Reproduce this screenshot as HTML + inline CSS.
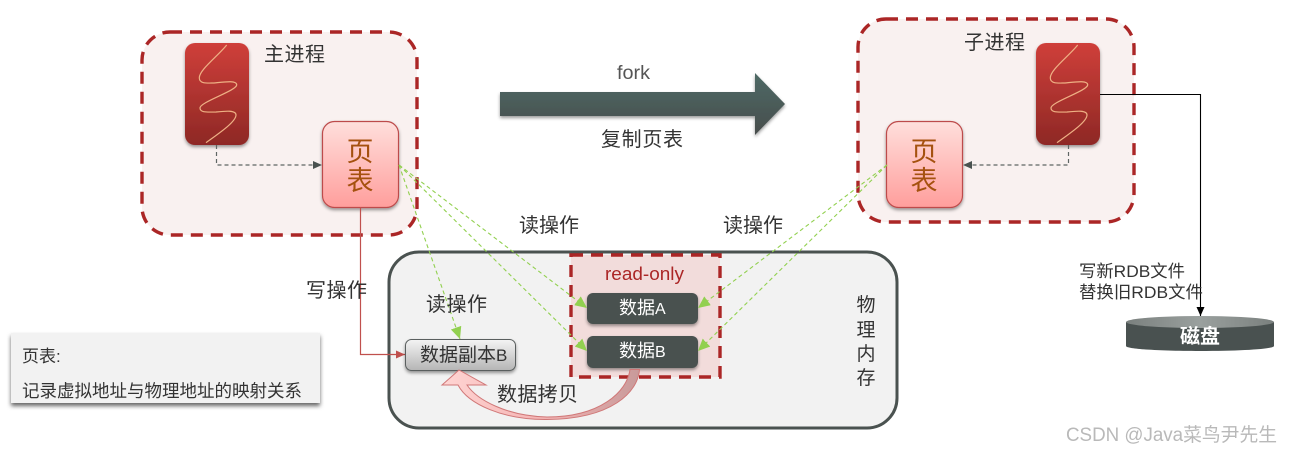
<!DOCTYPE html>
<html><head><meta charset="utf-8"><style>
html,body{margin:0;padding:0;background:#fff;width:1292px;height:453px;overflow:hidden}
svg{display:block}
text{font-family:"Liberation Sans","Noto Sans CJK SC",sans-serif;fill:#333}
</style></head><body>
<svg width="1292" height="453" viewBox="0 0 1292 453" xmlns="http://www.w3.org/2000/svg">
<defs>
<linearGradient id="red" x1="0" y1="0" x2="0" y2="1"><stop offset="0" stop-color="#cf3f3a"/><stop offset="1" stop-color="#8e2825"/></linearGradient>
<linearGradient id="pink" x1="0" y1="0" x2="0" y2="1"><stop offset="0" stop-color="#ffdfdc"/><stop offset="1" stop-color="#ff9e9c"/></linearGradient>
<linearGradient id="gray" x1="0" y1="0" x2="0" y2="1"><stop offset="0" stop-color="#f4f4f4"/><stop offset="1" stop-color="#b5b5b5"/></linearGradient>
<linearGradient id="arr" x1="0" y1="0" x2="0" y2="1"><stop offset="0" stop-color="#4f6a66"/><stop offset="1" stop-color="#474d4c"/></linearGradient>
<linearGradient id="cur" x1="1" y1="0" x2="0" y2="0"><stop offset="0" stop-color="#c89a9a"/><stop offset="0.5" stop-color="#f4b4b4"/><stop offset="1" stop-color="#ffd5d3"/></linearGradient>
<linearGradient id="disk" x1="0" y1="0" x2="1" y2="0"><stop offset="0" stop-color="#7a807e"/><stop offset="0.5" stop-color="#9aa09e"/><stop offset="1" stop-color="#7a807e"/></linearGradient>
<filter id="sh" x="-20%" y="-20%" width="140%" height="140%"><feDropShadow dx="0" dy="2" stdDeviation="1.6" flood-color="#000" flood-opacity=".4"/></filter>
<filter id="sh2" x="-5%" y="-10%" width="110%" height="125%"><feDropShadow dx="0" dy="3" stdDeviation="2" flood-color="#000" flood-opacity=".6"/></filter>
<marker id="gh" markerUnits="userSpaceOnUse" markerWidth="13" markerHeight="11" refX="12" refY="5.5" orient="auto"><path d="M0 0L12 5.500L0 11Z" fill="#92d050"/></marker>
<marker id="dh" markerUnits="userSpaceOnUse" markerWidth="10" markerHeight="10" refX="9" refY="4" orient="auto"><path d="M0 0L9 4L0 8Z" fill="#4a5250"/></marker>
<marker id="rh" markerUnits="userSpaceOnUse" markerWidth="10" markerHeight="10" refX="9" refY="4" orient="auto"><path d="M0 0L9 4L0 8Z" fill="#c0504d"/></marker>
<marker id="kh" markerUnits="userSpaceOnUse" markerWidth="10" markerHeight="10" refX="9" refY="4" orient="auto"><path d="M0 0L9 4L0 8Z" fill="#000"/></marker>
</defs>

<!-- process containers -->
<rect x="142" y="32" width="275" height="203" rx="28" fill="#f9f1f0" stroke="#ab2626" stroke-width="3.400" stroke-dasharray="12 8"/>
<rect x="858" y="19" width="276" height="203" rx="28" fill="#f9f1f0" stroke="#ab2626" stroke-width="3.400" stroke-dasharray="12 8"/>

<!-- physical memory -->
<rect x="389" y="252" width="508" height="176" rx="30" fill="#f2f2f2" stroke="#4a5250" stroke-width="3"/>
<rect x="571" y="255" width="149" height="122" fill="#f2dcdb" stroke="#ab2626" stroke-width="3.400" stroke-dasharray="12 8"/>

<!-- red blocks -->
<g filter="url(#sh)"><rect x="185" y="43" width="64" height="102" rx="10" fill="url(#red)"/></g>
<path d="M226.700 45C218 56 199 70 199.300 78C199.500 84 207 83 214 83C224 82 237 80 236.700 85C236 91 200 102 200 108C200 113 208 112 216 112C226 111 236 110 236 115C236 122 218 134 206 142.700" fill="none" stroke="#eeb084" stroke-width="1.200"/>
<g filter="url(#sh)"><rect x="1036" y="43" width="64" height="102" rx="10" fill="url(#red)"/></g>
<path transform="translate(851 0)" d="M226.700 45C218 56 199 70 199.300 78C199.500 84 207 83 214 83C224 82 237 80 236.700 85C236 91 200 102 200 108C200 113 208 112 216 112C226 111 236 110 236 115C236 122 218 134 206 142.700" fill="none" stroke="#eeb084" stroke-width="1.200"/>

<!-- page tables -->
<g filter="url(#sh)"><rect x="322.500" y="121.500" width="76" height="86" rx="12" fill="url(#pink)" stroke="#bd4b4b" stroke-width="1.200"/></g>
<text x="360" y="161" font-size="27" text-anchor="middle" style="fill:#a5510f">页</text>
<text x="360" y="190" font-size="27" text-anchor="middle" style="fill:#a5510f">表</text>
<g filter="url(#sh)"><rect x="886.500" y="121.500" width="76" height="86" rx="12" fill="url(#pink)" stroke="#bd4b4b" stroke-width="1.200"/></g>
<text x="924" y="161" font-size="27" text-anchor="middle" style="fill:#a5510f">页</text>
<text x="924" y="190" font-size="27" text-anchor="middle" style="fill:#a5510f">表</text>

<!-- grey dashed connectors -->
<path d="M216.500 145V165H322" fill="none" stroke="#5f6664" stroke-width="1.200" stroke-dasharray="4 3" marker-end="url(#dh)"/>
<path d="M1068.500 145V165H963" fill="none" stroke="#5f6664" stroke-width="1.200" stroke-dasharray="4 3" marker-end="url(#dh)"/>

<!-- red write connector -->
<path d="M360.500 207V354.500H405" fill="none" stroke="#c0504d" stroke-width="1.200" marker-end="url(#rh)"/>

<!-- data blocks -->
<g filter="url(#sh)"><rect x="587" y="293" width="111" height="31" rx="6" fill="#495150"/></g>
<g filter="url(#sh)"><rect x="587" y="336" width="111" height="32" rx="6" fill="#495150"/></g>
<g filter="url(#sh)"><rect x="405.500" y="339.500" width="110" height="31" rx="6" fill="url(#gray)" stroke="#5a5f5e" stroke-width="1"/></g>

<!-- curved arrow -->
<path d="M630 369.500H639.500C638 392 612 419 547 419.500C503 420 468 404 458 385H442L459 370L486 385H467C477 400 507 416 547 417C600 417 627 392 630 369.500Z" fill="url(#cur)" stroke="#d07878" stroke-width="1"/>

<!-- green read connectors -->
<g fill="none" stroke="#92d050" stroke-width="1.100" stroke-dasharray="4 3">
<path d="M399 165L587 308" marker-end="url(#gh)"/>
<path d="M399 165L587 351" marker-end="url(#gh)"/>
<path d="M399 165L460 339" marker-end="url(#gh)"/>
<path d="M887 165L698 308" marker-end="url(#gh)"/>
<path d="M887 165L698 351" marker-end="url(#gh)"/>
</g>

<!-- big arrow -->
<path d="M500 92H755V73L785 104L755 135V116H500Z" fill="url(#arr)" filter="url(#sh)"/>

<!-- disk -->
<path d="M1126 322V346C1126 349 1159 351 1200 351C1241 351 1274 349 1274 346V322Z" fill="#495150"/>
<ellipse cx="1200" cy="322" rx="74" ry="6" fill="url(#disk)"/>

<!-- black connector -->
<path d="M1100 94.500H1200.500V316" fill="none" stroke="#000" stroke-width="1.100" marker-end="url(#kh)"/>

<!-- legend -->
<rect x="11" y="333" width="309" height="70" fill="#f2f2f2" filter="url(#sh2)"/>
<text x="22" y="362" font-size="17">页表:</text>
<text x="22" y="397" font-size="17.500" textLength="280">记录虚拟地址与物理地址的映射关系</text>

<!-- labels -->
<text x="264" y="61" font-size="20" textLength="61">主进程</text>
<text x="964" y="49" font-size="20" textLength="61">子进程</text>
<text x="617" y="79" font-size="19" style="fill:#555" textLength="33" lengthAdjust="spacingAndGlyphs">fork</text>
<text x="601" y="146" font-size="20" textLength="82">复制页表</text>
<text x="519" y="232" font-size="20" textLength="60">读操作</text>
<text x="723" y="232" font-size="20" textLength="60">读操作</text>
<text x="306" y="297" font-size="20" textLength="61">写操作</text>
<text x="426" y="311" font-size="20" textLength="61">读操作</text>
<text x="605" y="280" font-size="18" style="fill:#ab2626" textLength="79" lengthAdjust="spacingAndGlyphs">read-only</text>
<text x="619" y="314" font-size="18" style="fill:#fff">数据<tspan font-size="16">A</tspan></text>
<text x="619" y="357" font-size="18" style="fill:#fff">数据<tspan font-size="16">B</tspan></text>
<text x="420" y="361" font-size="19">数据副本<tspan font-size="17">B</tspan></text>
<text x="497" y="401" font-size="20" textLength="81">数据拷贝</text>
<text x="866" y="311" font-size="19" text-anchor="middle">物</text>
<text x="866" y="336" font-size="19" text-anchor="middle">理</text>
<text x="866" y="360" font-size="19" text-anchor="middle">内</text>
<text x="866" y="384" font-size="19" text-anchor="middle">存</text>
<text x="1079" y="277" font-size="17" textLength="106" lengthAdjust="spacingAndGlyphs">写新RDB文件</text>
<text x="1079" y="298" font-size="17" textLength="124" lengthAdjust="spacingAndGlyphs">替换旧RDB文件</text>
<text x="1200" y="343" font-size="20" font-weight="bold" text-anchor="middle" style="fill:#fff">磁盘</text>
<text x="1066" y="441" font-size="19" style="fill:#b9b9b9" textLength="211" lengthAdjust="spacingAndGlyphs">CSDN @Java菜鸟尹先生</text>
</svg>
</body></html>
